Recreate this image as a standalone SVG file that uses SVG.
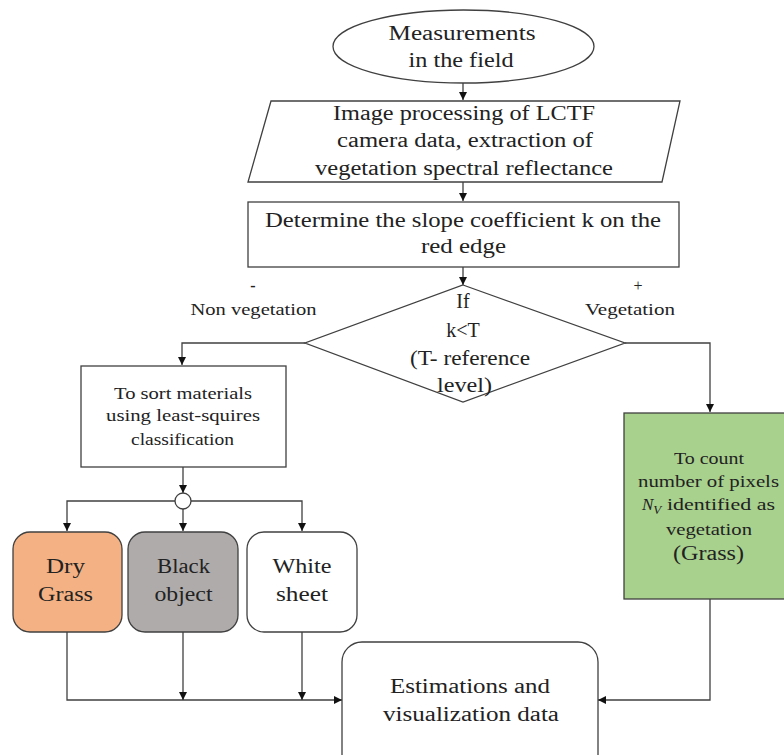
<svg xmlns="http://www.w3.org/2000/svg" width="784" height="755" viewBox="0 0 784 755">
<defs>
<style>
.n{fill:#fff;stroke:#404040;stroke-width:1.3}
.t{font-family:"Liberation Serif","Times New Roman",serif;fill:#222;text-anchor:middle}
.l{font-size:20px}
.s{font-size:17px}
.x{font-size:16px}
.c{fill:none;stroke:#404040;stroke-width:1.3}
</style>
<marker id="a" viewBox="0 0 10 10" refX="10" refY="5" markerWidth="8" markerHeight="8" markerUnits="userSpaceOnUse" orient="auto">
<path d="M0,0 L10,5 L0,10 z" fill="#111"/>
</marker>
</defs>
<rect width="784" height="755" fill="#fff"/>
<g id="connectors">
<path class="c" d="M463,83 V100" marker-end="url(#a)"/>
<path class="c" d="M463,182 V201" marker-end="url(#a)"/>
<path class="c" d="M463,267 V285" marker-end="url(#a)"/>
<path class="c" d="M305,343 H182 V365" marker-end="url(#a)"/>
<path class="c" d="M625,343 H710 V412" marker-end="url(#a)"/>
<path class="c" d="M183,467 V493" marker-end="url(#a)"/>
<path class="c" d="M175,501 H67 V531" marker-end="url(#a)"/>
<path class="c" d="M191,501 H302 V531" marker-end="url(#a)"/>
<path class="c" d="M183,509 V531" marker-end="url(#a)"/>
<path class="c" d="M67,632 V700 H342" marker-end="url(#a)"/>
<path class="c" d="M183,632 V700" marker-end="url(#a)"/>
<path class="c" d="M302,632 V700" marker-end="url(#a)"/>
<path class="c" d="M710,599 V700 H598" marker-end="url(#a)"/>
<circle cx="183" cy="501" r="8" class="n"/>
<text class="t x" x="253" y="291" font-weight="bold">-</text>
<text class="t x" x="253.5" y="315" textLength="126" lengthAdjust="spacingAndGlyphs">Non vegetation</text>
<text class="t x" x="638" y="291">+</text>
<text class="t x" x="630" y="315" textLength="90" lengthAdjust="spacingAndGlyphs">Vegetation</text>
</g>
<g id="start">
<ellipse cx="463.5" cy="46.5" rx="130.5" ry="36.5" class="n"/>
<text class="t l" x="462" y="40" textLength="147" lengthAdjust="spacingAndGlyphs">Measurements</text>
<text class="t l" x="461" y="67" textLength="105" lengthAdjust="spacingAndGlyphs">in the field</text>
</g>
<g id="processing">
<polygon points="271,101 680,101 662,182 248,182" class="n"/>
<text class="t l" x="464" y="120" textLength="262" lengthAdjust="spacingAndGlyphs">Image processing of LCTF</text>
<text class="t l" x="465" y="147" textLength="256" lengthAdjust="spacingAndGlyphs">camera data, extraction of</text>
<text class="t l" x="464" y="175" textLength="298" lengthAdjust="spacingAndGlyphs">vegetation spectral reflectance</text>
</g>
<g id="slope">
<rect x="248" y="202" width="431" height="65" class="n"/>
<text class="t l" x="463" y="227" textLength="396" lengthAdjust="spacingAndGlyphs">Determine the slope coefficient k on the</text>
<text class="t l" x="463.5" y="253" textLength="85" lengthAdjust="spacingAndGlyphs">red edge</text>
</g>
<g id="decision">
<polygon points="463,285 625,343 463,402 305,343" class="n"/>
<text class="t l" x="463" y="308">If</text>
<text class="t l" x="463" y="337">k&lt;T</text>
<text class="t l" x="470" y="365" textLength="120" lengthAdjust="spacingAndGlyphs">(T- reference</text>
<text class="t l" x="464.5" y="392" textLength="55" lengthAdjust="spacingAndGlyphs">level)</text>
</g>
<g id="sort">
<rect x="81" y="366" width="205" height="101" class="n"/>
<text class="t s" x="183" y="399" textLength="138" lengthAdjust="spacingAndGlyphs">To sort materials</text>
<text class="t s" x="183" y="421" textLength="154" lengthAdjust="spacingAndGlyphs">using least-squires</text>
<text class="t s" x="182.5" y="445" textLength="103" lengthAdjust="spacingAndGlyphs">classification</text>
</g>
<g id="dry">
<rect x="13" y="532" width="109" height="100" rx="17" class="n" style="fill:#F4B183"/>
<text class="t l" x="65.5" y="573" textLength="39" lengthAdjust="spacingAndGlyphs">Dry</text>
<text class="t l" x="65.5" y="601" textLength="55" lengthAdjust="spacingAndGlyphs">Grass</text>
</g>
<g id="black">
<rect x="128" y="532" width="110" height="100" rx="17" class="n" style="fill:#AFABAB"/>
<text class="t l" x="183.5" y="573" textLength="53" lengthAdjust="spacingAndGlyphs">Black</text>
<text class="t l" x="183.5" y="601" textLength="58" lengthAdjust="spacingAndGlyphs">object</text>
</g>
<g id="white">
<rect x="247" y="532" width="110" height="100" rx="17" class="n"/>
<text class="t l" x="302" y="573" textLength="59" lengthAdjust="spacingAndGlyphs">White</text>
<text class="t l" x="302" y="601" textLength="52" lengthAdjust="spacingAndGlyphs">sheet</text>
</g>
<g id="count">
<rect x="624" y="413" width="170" height="186" class="n" style="fill:#A9D18E"/>
<text class="t s" x="709" y="464" textLength="70" lengthAdjust="spacingAndGlyphs">To count</text>
<text class="t s" x="708.5" y="487" textLength="141" lengthAdjust="spacingAndGlyphs">number of pixels</text>
<text class="t s" x="642" y="510" style="text-anchor:start" font-size="18"><tspan font-style="italic">N</tspan><tspan font-style="italic" font-size="13" dy="4">V</tspan></text>
<text class="t s" x="721" y="510" textLength="108" lengthAdjust="spacingAndGlyphs">identified  as</text>
<text class="t s" x="709" y="535" textLength="86" lengthAdjust="spacingAndGlyphs">vegetation</text>
<text class="t l" x="708.5" y="560" textLength="71" lengthAdjust="spacingAndGlyphs">(Grass)</text>
</g>
<g id="estimations">
<rect x="342" y="642" width="256" height="140" rx="20" class="n"/>
<text class="t l" x="470" y="693" textLength="160" lengthAdjust="spacingAndGlyphs">Estimations and</text>
<text class="t l" x="471" y="721" textLength="176" lengthAdjust="spacingAndGlyphs">visualization data</text>
</g>
</svg>
